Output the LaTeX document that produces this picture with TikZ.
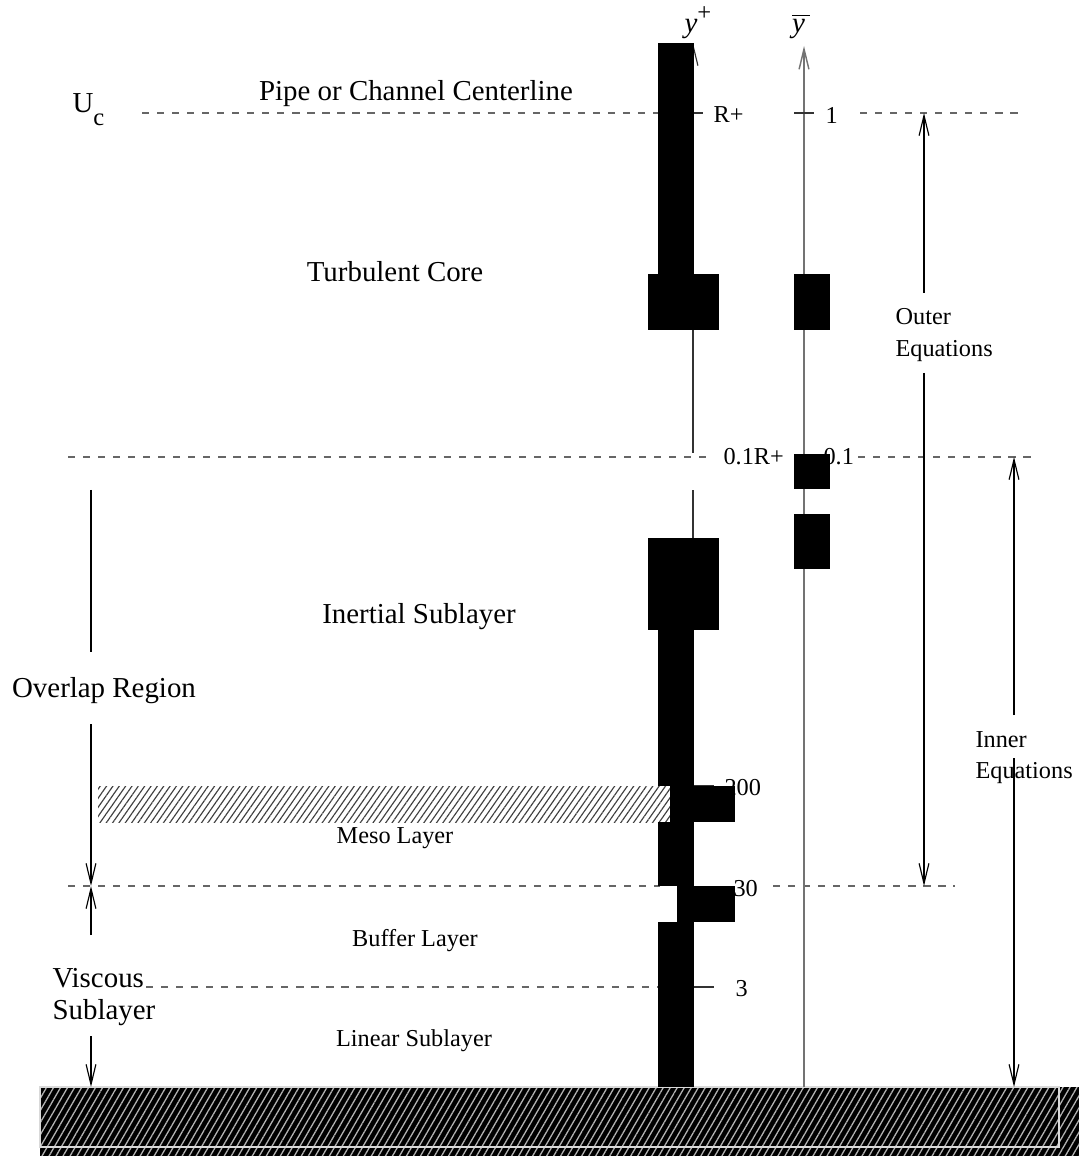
\documentclass[tikz,border=0pt]{standalone}
\usepackage{fontspec}
\setmainfont{Liberation Serif}
\usetikzlibrary{arrows.meta,patterns.meta}

\tikzset{
	txt/.style={inner sep=0pt, font=\fontsize{10}{12}\selectfont},
	smalltxt/.style={inner sep=0pt, font=\fontsize{8.4}{11.8}\selectfont},
	guide/.style={draw=black!60, line width=0.4pt, dash pattern=on 2.5pt off 2.7pt},
	dimline/.style={line width=0.4pt, -{Straight Barb[length=7pt,width=3.4pt]}},
	bar/.style={fill=black},
}

\begin{document}
\begin{tikzpicture}[x=0.346pt, y=-0.346pt]
		%%%%% START %%%%%
		\useasboundingbox (0,0) rectangle (1079,1156);
		
		% wall
		\fill[black] (40,1087) rectangle (1079,1156);
		\fill[pattern={Lines[angle=60,distance=2.1pt,line width=0.45pt]}, pattern color=white!70!black] (40,1087) rectangle (1079,1156);
		\draw[white!85!black, line width=0.6pt] (40,1087) rectangle (1059,1147);
		
		% guide lines
		\draw[guide] (142,113) -- (693,113);
		\draw[guide] (860,113) -- (1025,113);
		\draw[guide] (68,457) -- (710,457);
		\draw[guide] (858,457) -- (1033,457);
		\draw[guide] (68,886) -- (660,886);
		\draw[guide] (773,886) -- (955,886);
		\draw[guide] (146,987) -- (658,987);
		
		% meso layer hatch
		\fill[pattern={Lines[angle=55,distance=1.8pt,line width=0.4pt]}, pattern color=black!75] (98,786) rectangle (670,822);
		
		% axes
		\coordinate (ypBot) at (693,1087);
		\coordinate (ypGapLo) at (693,490);
		\coordinate (ypGapHi) at (693,453);
		\coordinate (ypTop) at (693,43);
		\coordinate (ybBot) at (804,1087);
		\coordinate (ybTop) at (804,46);
		\draw[black!80, line width=0.4pt] (ypBot) -- (ypGapLo);
		\draw[black!80, dimline] (ypGapHi) -- (ypTop);
		\draw[black!55, line width=0.5pt, -{Straight Barb[length=7pt,width=3.4pt]}] (ybBot) -- (ybTop);
		\node[txt, anchor=base west] (yplus) at (684,33) {\textit{y}\raisebox{4.2pt}{\fontsize{8.5}{10}\selectfont +}};
		\node[txt, anchor=base] (ybar) at (801,33) {$\overline{\mbox{\textit{y}\,}}$};
		
		% ticks
		\draw[black!80] (694,113) -- (703,113);
		\draw[black!80] (794,113) -- (814,113);
		\draw[black!80] (694,786) -- (714,786);
		\draw[black!80] (694,987) -- (714,987);
		
		% tick labels
		\node[smalltxt, anchor=west] (lblR) at (713,115) {R+};
		\node[smalltxt, anchor=west] (lbl1) at (825,115) {1};
		\node[smalltxt, anchor=west] (lbl01R) at (723,457) {0.1R+};
		\node[smalltxt, anchor=west] (lbl01) at (823,457) {0.1};
		\node[smalltxt, anchor=west] (lbl200) at (724,788) {200};
		\node[smalltxt, anchor=west] (lbl30) at (733,889) {30};
		\node[smalltxt, anchor=west] (lbl3) at (735,989) {3};
		
		% region labels
		\node[txt, anchor=base west] (uc) at (72,113) {U\raisebox{-4.5pt}{\fontsize{8.5}{10}\selectfont c}};
		\node[txt, anchor=base] (pipe) at (416,101) {Pipe or Channel Centerline};
		\node[txt, anchor=base] (turb) at (395,282) {Turbulent Core};
		\node[txt, anchor=base] (inert) at (419,623) {Inertial Sublayer};
		\node[txt, anchor=base] (overlap) at (104,697) {Overlap Region};
		\node[smalltxt, anchor=base] (meso) at (395,843) {Meso Layer};
		\node[smalltxt, anchor=base] (buffer) at (415,946) {Buffer Layer};
		\node[smalltxt, anchor=base] (linear) at (414,1046) {Linear Sublayer};
		\node[txt, anchor=base west] (viscous) at (52,987) {Viscous};
		\node[txt, anchor=base west] (sublayer) at (52,1019) {Sublayer};
		\node[smalltxt, anchor=base west] (outer) at (895,325) {Outer};
		\node[smalltxt, anchor=base west] (outerEq) at (895,357) {Equations};
		\node[smalltxt, anchor=base west] (inner) at (975,747) {Inner};
		\node[smalltxt, anchor=base west] (innerEq) at (975,778) {Equations};
		
		% dimension arrows
		\coordinate (outA) at (924,293);
		\coordinate (outB) at (924,113);
		\coordinate (outC) at (924,373);
		\coordinate (outD) at (924,886);
		\draw[dimline] (outA) -- (outB);
		\draw[dimline] (outC) -- (outD);
		
		\coordinate (inA) at (1014,715);
		\coordinate (inB) at (1014,457);
		\coordinate (inC) at (1014,758);
		\coordinate (inD) at (1014,1087);
		\draw[dimline] (inA) -- (inB);
		\draw[dimline] (inC) -- (inD);
		
		\coordinate (ovA) at (91,490);
		\coordinate (ovB) at (91,652);
		\coordinate (ovC) at (91,724);
		\coordinate (ovD) at (91,886);
		\coordinate (viA) at (91,935);
		\coordinate (viB) at (91,1036);
		\coordinate (viC) at (91,1087);
		\draw[line width=0.4pt] (ovA) -- (ovB);
		\draw[dimline] (ovC) -- (ovD);
		\draw[dimline] (viA) -- (ovD);
		\draw[dimline] (viB) -- (viC);
		
		% black bars on y+ axis
		\fill[bar] (658,43) rectangle (694,274);
		\fill[bar] (648,274) rectangle (719,330);
		\fill[bar] (648,538) rectangle (719,630);
		\fill[bar] (658,630) rectangle (694,786);
		\fill[bar] (670,786) rectangle (735,822);
		\fill[bar] (658,822) rectangle (694,886);
		\fill[bar] (677,886) rectangle (735,922);
		\fill[bar] (658,922) rectangle (694,1087);
		
		% black bars on y-bar axis
		\fill[bar] (794,274) rectangle (830,330);
		\fill[bar] (794,454) rectangle (830,489);
		\fill[bar] (794,514) rectangle (830,569);
		
		%%%%% END %%%%%
\end{tikzpicture}
\end{document}
